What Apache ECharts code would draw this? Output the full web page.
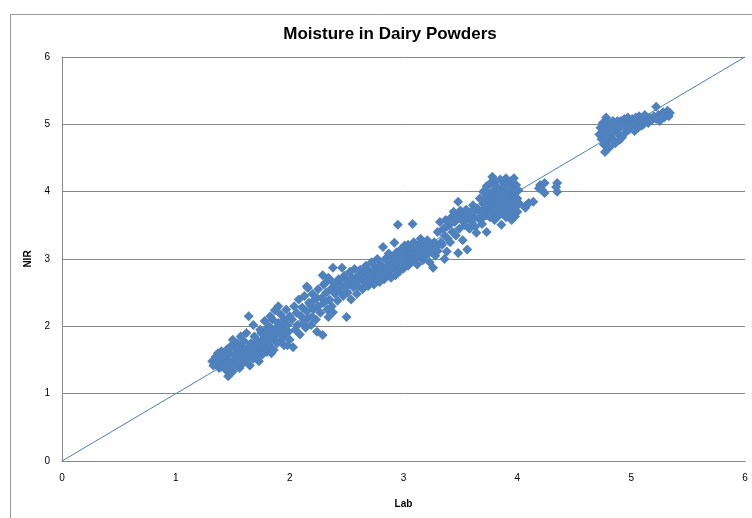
<!DOCTYPE html>
<html>
<head>
<meta charset="utf-8">
<script src="https://cdn.jsdelivr.net/npm/echarts@6/dist/echarts.min.js"></script>
<style>html,body{margin:0;padding:0;background:#fff}#c{width:752px;height:518px}</style>
</head>
<body>
<div id="c"></div>
<script>
const chartTitle = 'Moisture in Dairy Powders';
const xName = 'Lab';
const yName = 'NIR';
const axisTicks = [0, 1, 2, 3, 4, 5, 6];
const refLineX = [0, 6];
const refLineY = [0, 6];

const groupA = [[1.32,1.48],[1.33,1.42],[1.35,1.55],[1.36,1.45],[1.37,1.60],[1.38,1.38],[1.40,1.52],[1.40,1.63],[1.42,1.45],[1.43,1.57],[1.44,1.35],[1.45,1.66],[1.46,1.26],[1.46,1.50],[1.47,1.40],[1.48,1.60],[1.49,1.72],[1.50,1.33],[1.50,1.48],[1.52,1.56],[1.52,1.68],[1.53,1.42],[1.54,1.75],[1.55,1.62],[1.56,1.38],[1.57,1.52],[1.58,1.70],[1.59,1.45],[1.60,1.78],[1.60,1.60],[1.62,1.50],[1.63,1.68],[1.64,2.15],[1.65,1.42],[1.65,1.58],[1.66,1.75],[1.67,1.65],[1.68,1.52],[1.69,1.85],[1.70,1.70],[1.71,1.60],[1.72,1.78],[1.73,1.48],[1.74,1.66],[1.75,1.90],[1.75,1.72],[1.76,1.58],[1.77,1.82],[1.78,1.68],[1.79,1.95],[1.80,1.62],[1.80,1.75],[1.81,1.88],[1.82,2.00],[1.83,1.70],[1.84,1.80],[1.85,1.92],[1.85,2.10],[1.86,1.65],[1.87,2.24],[1.87,1.85],[1.88,1.98],[1.89,1.75],[1.90,2.05],[1.91,1.90],[1.92,2.18],[1.93,1.80],[1.94,1.98],[1.95,2.10],[1.95,1.72],[1.96,1.88],[1.97,2.25],[1.98,2.02],[1.99,1.92],[2.00,2.15],[2.00,1.80],[1.62,1.90],[1.74,1.95],[1.57,1.85],[1.50,1.80],[1.78,2.08],[1.83,2.15],[1.90,2.30],[1.68,2.02],[1.55,1.50],[1.45,1.45],[1.40,1.40],[1.72,1.55],[1.84,1.60],[1.98,1.72]];

const groupB = [[2.02,2.10],[2.03,1.69],[2.04,2.30],[2.05,1.95],[2.06,2.20],[2.07,2.02],[2.08,2.40],[2.09,1.88],[2.10,2.15],[2.11,2.28],[2.12,2.05],[2.13,2.45],[2.14,1.98],[2.15,2.59],[2.15,2.22],[2.16,2.12],[2.17,2.35],[2.18,2.32],[2.19,2.02],[2.20,2.14],[2.20,2.48],[2.21,2.25],[2.22,2.40],[2.23,2.10],[2.24,1.92],[2.25,2.55],[2.25,2.30],[2.27,2.20],[2.28,2.42],[2.29,1.87],[2.29,2.76],[2.30,2.62],[2.30,2.35],[2.31,2.64],[2.32,2.50],[2.33,2.25],[2.34,2.72],[2.35,2.40],[2.36,2.55],[2.37,2.30],[2.38,2.21],[2.38,2.87],[2.38,2.65],[2.40,2.48],[2.41,2.58],[2.42,2.38],[2.43,2.70],[2.44,2.52],[2.45,2.62],[2.46,2.87],[2.47,2.45],[2.48,2.75],[2.49,2.58],[2.50,2.14],[2.50,2.68],[2.51,2.50],[2.53,2.81],[2.53,2.62],[2.54,2.40],[2.55,2.72],[2.56,2.58],[2.57,2.85],[2.58,2.65],[2.59,2.48],[2.60,2.75],[2.34,2.14],[2.16,2.57],[2.24,2.42]];

const groupC = [[2.60,2.60],[2.62,2.84],[2.63,2.70],[2.64,2.55],[2.65,2.78],[2.66,2.65],[2.67,2.90],[2.68,2.72],[2.69,2.60],[2.70,2.82],[2.71,2.68],[2.72,2.95],[2.73,2.75],[2.74,2.62],[2.75,2.88],[2.76,2.70],[2.77,3.00],[2.78,2.80],[2.79,2.66],[2.80,2.92],[2.81,2.74],[2.82,3.18],[2.82,2.85],[2.83,2.70],[2.84,3.00],[2.85,2.78],[2.86,2.90],[2.87,3.08],[2.88,2.82],[2.89,2.72],[2.90,2.95],[2.91,3.02],[2.92,3.24],[2.92,2.86],[2.93,2.76],[2.94,3.10],[2.95,3.51],[2.95,2.92],[2.96,3.00],[2.97,2.82],[2.98,3.15],[2.99,2.95],[3.00,3.05],[3.00,2.86],[3.01,3.20],[3.02,2.98],[3.03,3.10],[3.04,3.21],[3.04,2.90],[3.05,3.02],[3.06,3.15],[3.07,2.95],[3.08,3.52],[3.08,3.08],[3.09,3.25],[3.10,3.00],[3.11,3.12],[3.12,2.92],[3.13,3.20],[3.14,3.05],[3.15,3.30],[3.16,3.10],[3.17,2.98],[3.18,3.22],[3.19,3.12],[3.20,3.05],[3.21,3.28],[3.22,3.15],[3.23,2.95],[3.24,3.20],[3.25,3.10],[3.26,2.87],[3.27,3.25],[3.28,3.05],[3.29,3.18],[3.30,3.12],[2.75,2.78],[2.85,2.85],[2.95,2.98],[3.05,3.08],[3.15,3.15],[2.88,3.00],[2.98,3.05],[3.10,3.18],[2.70,2.75],[2.80,2.88]];

const groupD = [[3.30,3.40],[3.32,3.55],[3.33,3.25],[3.34,3.21],[3.35,3.45],[3.36,3.35],[3.37,3.58],[3.38,3.11],[3.39,3.30],[3.40,3.50],[3.41,3.25],[3.42,3.62],[3.43,3.40],[3.44,3.70],[3.45,3.55],[3.46,3.35],[3.47,3.65],[3.48,3.09],[3.48,3.85],[3.49,3.45],[3.50,3.72],[3.51,3.58],[3.52,3.28],[3.53,3.66],[3.54,3.50],[3.55,3.73],[3.56,3.14],[3.57,3.60],[3.58,3.45],[3.59,3.70],[3.60,3.55],[3.61,3.80],[3.62,3.62],[3.63,3.48],[3.64,3.39],[3.65,3.75],[3.66,3.60],[3.67,3.90],[3.68,3.68],[3.69,3.52],[3.70,3.82],[3.70,3.62],[3.73,3.40],[3.38,3.48],[3.46,3.62],[3.55,3.62],[3.62,3.70],[3.36,3.00]];

const groupE = [[3.70,4.00],[3.71,3.75],[3.72,3.90],[3.73,4.08],[3.73,3.65],[3.74,3.85],[3.75,3.98],[3.75,3.72],[3.76,4.12],[3.77,3.80],[3.77,3.92],[3.78,4.22],[3.78,3.68],[3.79,4.02],[3.80,3.85],[3.80,3.58],[3.81,3.95],[3.81,4.15],[3.82,3.75],[3.83,4.05],[3.83,3.88],[3.84,3.65],[3.85,3.98],[3.85,4.18],[3.86,3.51],[3.86,3.80],[3.87,3.92],[3.87,4.08],[3.88,3.70],[3.89,3.85],[3.89,4.00],[3.90,4.20],[3.90,3.62],[3.91,3.78],[3.91,3.95],[3.92,4.10],[3.92,3.88],[3.93,3.68],[3.93,4.02],[3.94,3.82],[3.94,4.15],[3.95,3.92],[3.95,3.58],[3.96,4.05],[3.96,3.75],[3.97,3.88],[3.97,4.20],[3.98,3.63],[3.98,3.98],[3.99,3.80],[3.99,4.10],[4.00,3.90],[4.00,3.70],[4.01,4.02],[4.02,3.82],[3.72,3.80],[3.80,4.10],[3.88,4.14],[3.84,3.75],[3.76,3.62]];

const groupF = [[4.07,3.76],[4.08,3.80],[4.14,3.85],[4.10,3.83],[4.20,4.10],[4.22,4.02],[4.24,4.13],[4.24,3.98],[4.35,4.13],[4.35,4.00],[4.34,4.07],[4.19,4.05]];

const groupG = [[4.72,4.85],[4.73,4.95],[4.74,4.78],[4.75,4.90],[4.75,5.02],[4.76,4.70],[4.77,4.85],[4.77,4.59],[4.78,5.10],[4.78,4.95],[4.79,4.75],[4.80,4.88],[4.80,5.02],[4.81,4.66],[4.82,4.95],[4.83,4.80],[4.84,5.05],[4.85,4.90],[4.86,4.72],[4.87,4.98],[4.88,5.05],[4.89,4.85],[4.90,4.95],[4.90,4.77],[4.91,5.05],[4.92,4.81],[4.93,4.98],[4.94,5.08],[4.95,4.88],[4.96,5.00],[4.97,5.10],[4.98,4.92],[4.99,5.04],[5.00,4.95],[5.01,5.08],[5.02,5.00],[5.03,4.90],[5.04,5.10],[5.05,5.02],[5.06,4.95],[5.07,5.12],[5.08,5.05],[5.09,4.98],[5.10,5.08],[5.11,5.00],[5.12,5.14],[5.13,5.05],[5.15,5.02],[5.16,5.10],[5.18,5.06],[5.20,5.12],[5.22,5.26],[5.22,5.08],[5.24,5.14],[5.25,5.05],[5.26,5.12],[5.28,5.18],[5.29,5.10],[5.30,5.15],[5.32,5.20],[5.33,5.12],[5.34,5.17]];

const points = [].concat(groupA, groupB, groupC, groupD, groupE, groupF, groupG);
const refLine = refLineX.map((x, i) => [x, refLineY[i]]);

const chart = echarts.init(document.getElementById('c'), null, {renderer: 'canvas'});
const fontFam = '"Liberation Sans", Arial, sans-serif';
chart.setOption({
  animation: false,
  backgroundColor: '#ffffff',
  graphic: [{
    type: 'rect', left: 10, top: 14, z: -10,
    shape: {width: 800, height: 600},
    style: {fill: '#ffffff', stroke: '#9a9a9a', lineWidth: 1}
  }],
  title: {
    text: chartTitle, left: 385, top: 21, textAlign: 'center',
    textStyle: {fontFamily: fontFam, fontWeight: 'bold', fontSize: 17, color: '#000'}
  },
  grid: {left: 62, right: 7, top: 57, bottom: 57, containLabel: false},
  xAxis: {
    type: 'value', min: axisTicks[0], max: axisTicks[axisTicks.length - 1], interval: 1,
    name: xName, nameLocation: 'middle', nameGap: 38,
    nameTextStyle: {fontFamily: fontFam, fontWeight: 'bold', fontSize: 10, color: '#000'},
    axisLine: {show: true, lineStyle: {color: '#868686', width: 1}},
    axisTick: {show: false},
    axisLabel: {fontFamily: fontFam, fontSize: 10, color: '#000', margin: 12},
    splitLine: {show: false}
  },
  yAxis: {
    type: 'value', min: axisTicks[0], max: axisTicks[axisTicks.length - 1], interval: 1,
    name: yName, nameLocation: 'middle', nameGap: 26, nameRotate: 90,
    nameTextStyle: {fontFamily: fontFam, fontWeight: 'bold', fontSize: 10, color: '#000'},
    axisLine: {show: true, lineStyle: {color: '#868686', width: 1}},
    axisTick: {show: false},
    axisLabel: {fontFamily: fontFam, fontSize: 10, color: '#000', margin: 12},
    splitLine: {show: true, lineStyle: {color: '#868686', width: 1}}
  },
  series: [
    {
      type: 'line', data: refLine, symbol: 'none', z: 2,
      lineStyle: {color: '#4a7ebb', width: 1}
    },
    {
      type: 'scatter', data: points, symbol: 'diamond', symbolSize: 10, z: 3,
      itemStyle: {color: '#4f81bd', opacity: 1}
    }
  ]
});
</script>
</body>
</html>
